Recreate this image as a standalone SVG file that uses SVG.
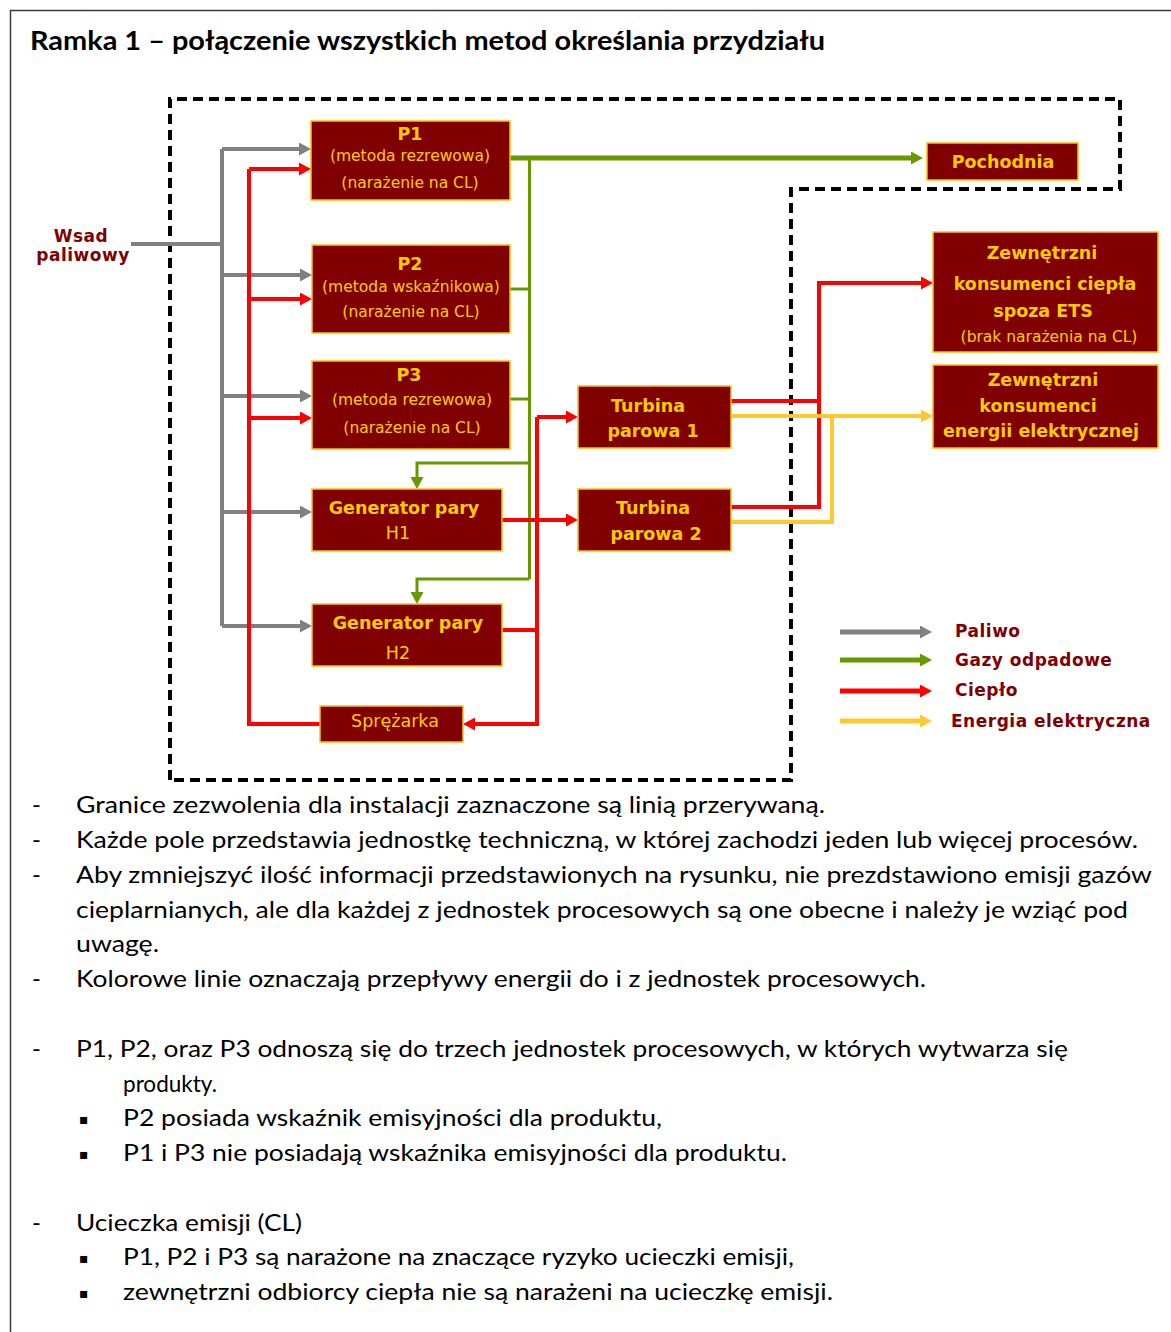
<svg xmlns="http://www.w3.org/2000/svg" width="1171" height="1332" viewBox="0 0 1171 1332">
  <style>
    .frame { fill: none; stroke: #3a3a3a; stroke-width: 1.5; }
    .boundary { fill: none; stroke: #000; stroke-width: 4; stroke-dasharray: 10 6; }
    .box { fill: #800000; stroke: #ffc000; stroke-width: 1.5; }
    .bt { font-family: "DejaVu Sans", Verdana, sans-serif; font-size: 17.5px; font-weight: bold; fill: #ffcc00; text-anchor: middle; }
    .nt { font-family: "DejaVu Sans", Verdana, sans-serif; font-size: 15.5px; fill: #ffcc00; text-anchor: middle; }
    .nt17 { font-family: "DejaVu Sans", Verdana, sans-serif; font-size: 17.5px; fill: #ffcc00; text-anchor: middle; }
    .lbl { font-family: "DejaVu Sans", Verdana, sans-serif; font-size: 17px; font-weight: bold; fill: #800000; letter-spacing: 0.5px; }
    .title { font-family: Lato, "Liberation Sans", sans-serif; font-size: 26px; font-weight: bold; fill: #000; }
    .body { font-family: Lato, "Liberation Sans", sans-serif; font-size: 24px; fill: #000; }
    .bullet { font-family: "DejaVu Sans", sans-serif; font-size: 14px; fill: #000; }
    .gray { fill: none; stroke: #808080; stroke-width: 4; }
    .red { fill: none; stroke: #ff0000; stroke-width: 4; }
    .yel { fill: none; stroke: #ffc832; stroke-width: 4; }
    .grn { fill: none; stroke: #669900; stroke-width: 3; }
    .grn-main { fill: none; stroke: #669900; stroke-width: 5; }
    .leg { stroke-width: 5; }
  </style>
  <defs>
    <marker id="ah-gray" viewBox="0 0 12 13" refX="6" refY="6.5" markerWidth="12" markerHeight="13" markerUnits="userSpaceOnUse" orient="auto">
      <path d="M0,0 L12,6.5 L0,13 z" fill="#808080"/>
    </marker>
    <marker id="ah-red" viewBox="0 0 12 13" refX="6" refY="6.5" markerWidth="12" markerHeight="13" markerUnits="userSpaceOnUse" orient="auto">
      <path d="M0,0 L12,6.5 L0,13 z" fill="#ff0000"/>
    </marker>
    <marker id="ah-yel" viewBox="0 0 12 13" refX="6" refY="6.5" markerWidth="12" markerHeight="13" markerUnits="userSpaceOnUse" orient="auto">
      <path d="M0,0 L12,6.5 L0,13 z" fill="#ffc832"/>
    </marker>
    <marker id="ah-grn" viewBox="0 0 12 13" refX="6" refY="6.5" markerWidth="12" markerHeight="13" markerUnits="userSpaceOnUse" orient="auto">
      <path d="M0,0 L12,6.5 L0,13 z" fill="#669900"/>
    </marker>
  </defs>

  <rect width="1171" height="1332" fill="#fff"/>

  <!-- outer box frame -->
  <path class="frame" d="M10.5,1332 V10.5 H1171"/>

  <text class="title" x="30" y="50" textLength="795" lengthAdjust="spacingAndGlyphs">Ramka 1 – połączenie wszystkich metod określania przydziału</text>

  <!-- installation permit boundary -->
  <path class="boundary" d="M170,780 V99 H1120 V189 H791 V780 Z"/>

  <!-- connectors -->
  <g id="connectors">
    <!-- fuel -->
    <path class="gray" d="M131,244 H222"/>
    <path class="gray" d="M222,149 V626"/>
    <path class="gray" d="M222,149 H305" marker-end="url(#ah-gray)"/>
    <path class="gray" d="M222,275 H306" marker-end="url(#ah-gray)"/>
    <path class="gray" d="M222,396 H306" marker-end="url(#ah-gray)"/>
    <path class="gray" d="M222,512 H306" marker-end="url(#ah-gray)"/>
    <path class="gray" d="M222,626 H306" marker-end="url(#ah-gray)"/>

    <!-- waste gases -->
    <path class="grn-main" d="M510,158 H917" marker-end="url(#ah-grn)"/>
    <path class="grn" d="M529.5,158 V579"/>
    <path class="grn" d="M510,289 H529.5"/>
    <path class="grn" d="M510,399 H529.5"/>
    <path class="grn" d="M529.5,463 H417 V483" marker-end="url(#ah-grn)"/>
    <path class="grn" d="M529.5,579 H417 V598" marker-end="url(#ah-grn)"/>

    <!-- heat -->
    <path class="red" d="M320,724 H249 V169"/>
    <path class="red" d="M249,169 H305" marker-end="url(#ah-red)"/>
    <path class="red" d="M249,299 H306" marker-end="url(#ah-red)"/>
    <path class="red" d="M249,418 H306" marker-end="url(#ah-red)"/>
    <path class="red" d="M502,520 H572" marker-end="url(#ah-red)"/>
    <path class="red" d="M502,630 H537"/>
    <path class="red" d="M537,417 V724 H469" marker-end="url(#ah-red)"/>
    <path class="red" d="M537,417 H572" marker-end="url(#ah-red)"/>
    <path class="red" d="M731,401 H819"/>
    <path class="red" d="M731,507 H819 V283 H927" marker-end="url(#ah-red)"/>

    <!-- electricity -->
    <path class="yel" d="M731,416 H927" marker-end="url(#ah-yel)"/>
    <path class="yel" d="M731,522 H832 V416"/>
  </g>

  <!-- process units -->
  <g id="p1">
    <rect class="box" x="311" y="121" width="199" height="79"/>
    <text class="bt" x="410" y="140">P1</text>
    <text class="nt" x="410" y="161">(metoda rezrewowa)</text>
    <text class="nt" x="410" y="188">(narażenie na CL)</text>
  </g>
  <g id="p2">
    <rect class="box" x="312" y="245" width="198" height="88"/>
    <text class="bt" x="410" y="270">P2</text>
    <text class="nt" x="411" y="292">(metoda wskaźnikowa)</text>
    <text class="nt" x="411" y="317">(narażenie na CL)</text>
  </g>
  <g id="p3">
    <rect class="box" x="312" y="361" width="198" height="88"/>
    <text class="bt" x="409" y="381">P3</text>
    <text class="nt" x="412" y="405">(metoda rezrewowa)</text>
    <text class="nt" x="412" y="433">(narażenie na CL)</text>
  </g>
  <g id="h1">
    <rect class="box" x="312" y="489" width="190" height="62"/>
    <text class="bt" x="404" y="514">Generator pary</text>
    <text class="nt17" x="398" y="539">H1</text>
  </g>
  <g id="h2">
    <rect class="box" x="312" y="604" width="190" height="62"/>
    <text class="bt" x="408" y="629">Generator pary</text>
    <text class="nt17" x="398" y="659">H2</text>
  </g>
  <g id="sprezarka">
    <rect class="box" x="320" y="706" width="143" height="36"/>
    <text class="nt17" x="395" y="727">Sprężarka</text>
  </g>
  <g id="turbina1">
    <rect class="box" x="578" y="386" width="153" height="62"/>
    <text class="bt" x="648" y="412">Turbina</text>
    <text class="bt" x="653" y="437">parowa 1</text>
  </g>
  <g id="turbina2">
    <rect class="box" x="578" y="489" width="153" height="62"/>
    <text class="bt" x="653" y="514">Turbina</text>
    <text class="bt" x="656" y="540">parowa 2</text>
  </g>
  <g id="pochodnia">
    <rect class="box" x="927" y="143" width="151" height="37"/>
    <text class="bt" x="1003" y="168">Pochodnia</text>
  </g>
  <g id="konsumenci-ciepla">
    <rect class="box" x="933" y="232" width="225" height="120"/>
    <text class="bt" x="1042" y="259">Zewnętrzni</text>
    <text class="bt" x="1045" y="290">konsumenci ciepła</text>
    <text class="bt" x="1043" y="317">spoza ETS</text>
    <text class="nt" x="1049" y="342">(brak narażenia na CL)</text>
  </g>
  <g id="konsumenci-energii">
    <rect class="box" x="933" y="365" width="225" height="83"/>
    <text class="bt" x="1043" y="386">Zewnętrzni</text>
    <text class="bt" x="1038" y="412">konsumenci</text>
    <text class="bt" x="1041" y="437">energii elektrycznej</text>
  </g>

  <g id="wsad">
    <text class="lbl" x="81" y="242" text-anchor="middle">Wsad</text>
    <text class="lbl" x="83" y="261" text-anchor="middle">paliwowy</text>
  </g>

  <!-- legend -->
  <g id="legend">
    <path class="gray leg" d="M840,632 H926" marker-end="url(#ah-gray)"/>
    <path class="grn leg" d="M840,660 H926" marker-end="url(#ah-grn)"/>
    <path class="red leg" d="M840,691 H926" marker-end="url(#ah-red)"/>
    <path class="yel leg" d="M840,721 H926" marker-end="url(#ah-yel)"/>
    <text class="lbl" x="955" y="637">Paliwo</text>
    <text class="lbl" x="955" y="666">Gazy odpadowe</text>
    <text class="lbl" x="955" y="696">Ciepło</text>
    <text class="lbl" x="951" y="727">Energia elektryczna</text>
  </g>

  <!-- notes -->
  <g id="notes">
    <text class="body" x="32" y="813">-</text>
    <text class="body" x="76" y="813" textLength="749" lengthAdjust="spacingAndGlyphs">Granice zezwolenia dla instalacji zaznaczone są linią przerywaną.</text>
    <text class="body" x="32" y="848">-</text>
    <text class="body" x="76" y="848" textLength="1062" lengthAdjust="spacingAndGlyphs">Każde pole przedstawia jednostkę techniczną, w której zachodzi jeden lub więcej procesów.</text>
    <text class="body" x="32" y="883">-</text>
    <text class="body" x="76" y="883" textLength="1076" lengthAdjust="spacingAndGlyphs">Aby zmniejszyć ilość informacji przedstawionych na rysunku, nie prezdstawiono emisji gazów</text>
    <text class="body" x="76" y="918" textLength="1052" lengthAdjust="spacingAndGlyphs">cieplarnianych, ale dla każdej z jednostek procesowych są one obecne i należy je wziąć pod</text>
    <text class="body" x="76" y="952" textLength="83" lengthAdjust="spacingAndGlyphs">uwagę.</text>
    <text class="body" x="32" y="987">-</text>
    <text class="body" x="76" y="987" textLength="850" lengthAdjust="spacingAndGlyphs">Kolorowe linie oznaczają przepływy energii do i z jednostek procesowych.</text>

    <text class="body" x="32" y="1057">-</text>
    <text class="body" x="76" y="1057" textLength="992" lengthAdjust="spacingAndGlyphs">P1, P2, oraz P3 odnoszą się do trzech jednostek procesowych, w których wytwarza się</text>
    <text class="body" x="123" y="1092" textLength="94" lengthAdjust="spacingAndGlyphs">produkty.</text>
    <text class="bullet" x="79" y="1124">▪</text>
    <text class="body" x="123" y="1126" textLength="539" lengthAdjust="spacingAndGlyphs">P2 posiada wskaźnik emisyjności dla produktu,</text>
    <text class="bullet" x="79" y="1159">▪</text>
    <text class="body" x="123" y="1161" textLength="664" lengthAdjust="spacingAndGlyphs">P1 i P3 nie posiadają wskaźnika emisyjności dla produktu.</text>

    <text class="body" x="32" y="1231">-</text>
    <text class="body" x="76" y="1231" textLength="226" lengthAdjust="spacingAndGlyphs">Ucieczka emisji (CL)</text>
    <text class="bullet" x="79" y="1263">▪</text>
    <text class="body" x="123" y="1265" textLength="671" lengthAdjust="spacingAndGlyphs">P1, P2 i P3 są narażone na znaczące ryzyko ucieczki emisji,</text>
    <text class="bullet" x="79" y="1298">▪</text>
    <text class="body" x="123" y="1300" textLength="710" lengthAdjust="spacingAndGlyphs">zewnętrzni odbiorcy ciepła nie są narażeni na ucieczkę emisji.</text>
  </g>
</svg>
